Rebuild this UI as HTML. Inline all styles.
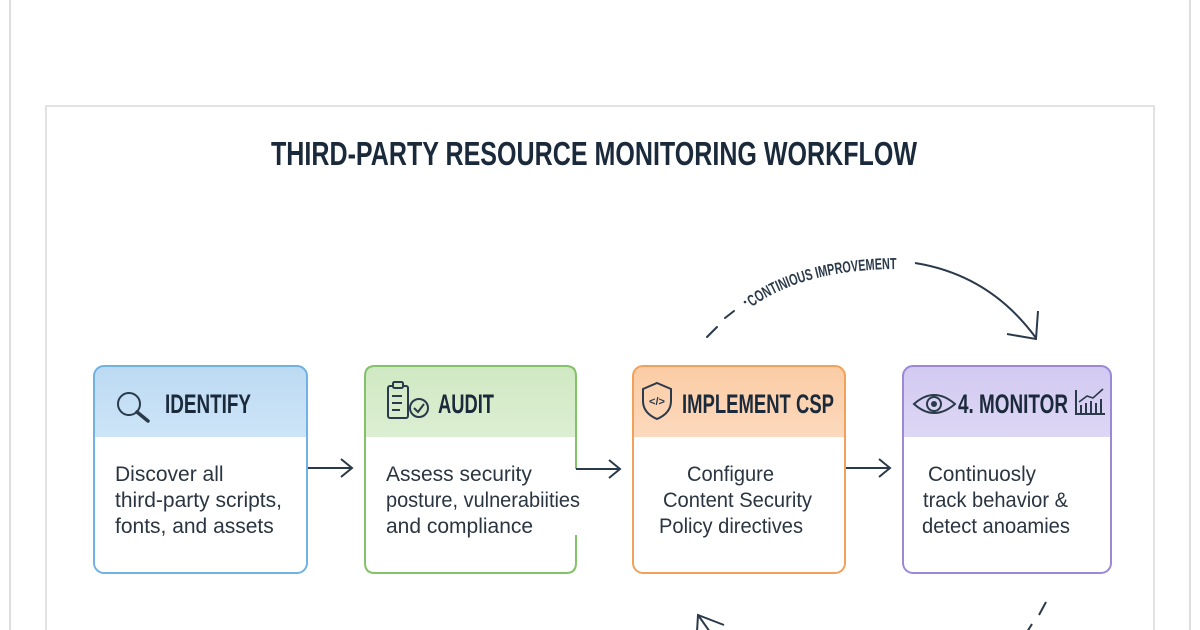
<!DOCTYPE html>
<html>
<head>
<meta charset="utf-8">
<style>
html,body{margin:0;padding:0;background:#ffffff;}
svg{display:block;}
</style>
</head>
<body>
<svg width="1200" height="630" viewBox="0 0 1200 630" xmlns="http://www.w3.org/2000/svg">
  <rect width="1200" height="630" fill="#ffffff"/>
  <!-- outer frame -->
  <line x1="10" y1="0" x2="10" y2="630" stroke="#dedede" stroke-width="2"/>
  <line x1="1190" y1="0" x2="1190" y2="630" stroke="#dedede" stroke-width="2"/>
  <!-- inner frame -->
  <path d="M46 630 V106 H1154 V630" fill="none" stroke="#e2e2e2" stroke-width="2"/>

  <!-- title -->
  <text x="271" y="165" font-family="Liberation Sans, sans-serif" font-weight="700" font-size="33" fill="#1b2a3b" textLength="646" lengthAdjust="spacingAndGlyphs">THIRD-PARTY RESOURCE MONITORING WORKFLOW</text>

  <defs>
    <linearGradient id="gb" x1="0" y1="0" x2="0" y2="1"><stop offset="0" stop-color="#bcdaf3"/><stop offset="1" stop-color="#cde4f7"/></linearGradient>
    <linearGradient id="gg" x1="0" y1="0" x2="0" y2="1"><stop offset="0" stop-color="#d0e8c3"/><stop offset="1" stop-color="#dcefd2"/></linearGradient>
    <linearGradient id="go" x1="0" y1="0" x2="0" y2="1"><stop offset="0" stop-color="#fbcca4"/><stop offset="1" stop-color="#fcd9bd"/></linearGradient>
    <linearGradient id="gp" x1="0" y1="0" x2="0" y2="1"><stop offset="0" stop-color="#d2caf1"/><stop offset="1" stop-color="#ddd7f5"/></linearGradient>
  </defs>

  <!-- Box 1 -->
  <path d="M94 437 V376 Q94 366 104 366 H297 Q307 366 307 376 V437 Z" fill="url(#gb)"/>
  <rect x="94" y="366" width="213" height="207" rx="10" fill="none" stroke="#72b2e2" stroke-width="2"/>
  <!-- magnifier -->
  <circle cx="129" cy="404" r="11" fill="none" stroke="#2a3a4a" stroke-width="2"/>
  <line x1="137" y1="412" x2="148" y2="421" stroke="#2a3a4a" stroke-width="3.5" stroke-linecap="round"/>
  <text x="165" y="413" font-family="Liberation Sans, sans-serif" font-weight="700" font-size="27" fill="#1b2a3b" textLength="86" lengthAdjust="spacingAndGlyphs">IDENTIFY</text>
  <g font-family="Liberation Sans, sans-serif" font-size="21" fill="#2b3541">
    <text x="115" y="481">Discover all</text>
    <text x="115" y="507" textLength="167" lengthAdjust="spacingAndGlyphs">third-party scripts,</text>
    <text x="115" y="533">fonts, and assets</text>
  </g>

  <!-- arrow 1 -->
  <line x1="308" y1="468" x2="351" y2="468" stroke="#2a3a4a" stroke-width="2"/>
  <path d="M341 459 L352 468 L341 477" fill="none" stroke="#2a3a4a" stroke-width="2"/>

  <!-- Box 2 -->
  <path d="M365 437 V376 Q365 366 375 366 H566 Q576 366 576 376 V437 Z" fill="url(#gg)"/>
  <path d="M576 469 V376 Q576 366 566 366 H375 Q365 366 365 376 V563 Q365 573 375 573 H566 Q576 573 576 563 V535" fill="none" stroke="#84c26a" stroke-width="2"/>
  <!-- clipboard -->
  <g fill="none" stroke="#2a3a4a" stroke-width="2">
    <rect x="388" y="386" width="20" height="32" rx="2"/>
    <rect x="393" y="382" width="10" height="6" rx="1.5" fill="#d0e8c3"/>
    <line x1="392" y1="396" x2="402" y2="396"/>
    <line x1="392" y1="403" x2="402" y2="403"/>
    <line x1="392" y1="410" x2="400" y2="410"/>
    <circle cx="419" cy="408" r="9" fill="#d4eac8"/>
    <path d="M414 408 L418 412 L424 404"/>
  </g>
  <text x="438" y="413" font-family="Liberation Sans, sans-serif" font-weight="700" font-size="27" fill="#1b2a3b" textLength="56" lengthAdjust="spacingAndGlyphs">AUDIT</text>
  <g font-family="Liberation Sans, sans-serif" font-size="21" fill="#2b3541">
    <text x="386" y="481">Assess security</text>
    <text x="386" y="507" textLength="194" lengthAdjust="spacingAndGlyphs">posture, vulnerabiities</text>
    <text x="386" y="533">and compliance</text>
  </g>

  <!-- arrow 2 -->
  <line x1="576" y1="469" x2="619" y2="469" stroke="#2a3a4a" stroke-width="2"/>
  <path d="M609 460 L620 469 L609 478" fill="none" stroke="#2a3a4a" stroke-width="2"/>

  <!-- Box 3 -->
  <path d="M633 437 V376 Q633 366 643 366 H835 Q845 366 845 376 V437 Z" fill="url(#go)"/>
  <rect x="633" y="366" width="212" height="207" rx="10" fill="none" stroke="#f2a15c" stroke-width="2"/>
  <!-- shield -->
  <path d="M657 383 L671 389 V401 Q671 413 657 419 Q643 413 643 401 V389 Z" fill="none" stroke="#2a3a4a" stroke-width="2"/>
  <text x="657" y="405" text-anchor="middle" font-family="Liberation Sans, sans-serif" font-weight="700" font-size="11" fill="#2a3a4a">&lt;/&gt;</text>
  <text x="682" y="413" font-family="Liberation Sans, sans-serif" font-weight="700" font-size="27" fill="#1b2a3b" textLength="152" lengthAdjust="spacingAndGlyphs">IMPLEMENT CSP</text>
  <g font-family="Liberation Sans, sans-serif" font-size="21" fill="#2b3541">
    <text x="687" y="481" textLength="87" lengthAdjust="spacingAndGlyphs">Configure</text>
    <text x="663" y="507" textLength="149" lengthAdjust="spacingAndGlyphs">Content Security</text>
    <text x="659" y="533" textLength="144" lengthAdjust="spacingAndGlyphs">Policy directives</text>
  </g>

  <!-- arrow 3 -->
  <line x1="846" y1="468" x2="889" y2="468" stroke="#2a3a4a" stroke-width="2"/>
  <path d="M879 459 L890 468 L879 477" fill="none" stroke="#2a3a4a" stroke-width="2"/>

  <!-- Box 4 -->
  <path d="M903 437 V376 Q903 366 913 366 H1101 Q1111 366 1111 376 V437 Z" fill="url(#gp)"/>
  <rect x="903" y="366" width="208" height="207" rx="10" fill="none" stroke="#9b89d8" stroke-width="2"/>
  <!-- eye -->
  <path d="M914 404 Q934 386 955 404 Q934 422 914 404 Z" fill="none" stroke="#2a3a4a" stroke-width="2"/>
  <circle cx="934" cy="404" r="7" fill="none" stroke="#2a3a4a" stroke-width="2"/>
  <circle cx="934" cy="404" r="3" fill="#2a3a4a"/>
  <text x="958" y="413" font-family="Liberation Sans, sans-serif" font-weight="700" font-size="27" fill="#1b2a3b" textLength="110" lengthAdjust="spacingAndGlyphs">4. MONITOR</text>
  <!-- chart -->
  <g fill="none" stroke="#2a3a4a" stroke-width="2">
    <path d="M1076 390 V414 H1105"/>
    <line x1="1081" y1="413" x2="1081" y2="405"/>
    <line x1="1086" y1="413" x2="1086" y2="403"/>
    <line x1="1091" y1="413" x2="1091" y2="401"/>
    <line x1="1096" y1="413" x2="1096" y2="403"/>
    <line x1="1101" y1="413" x2="1101" y2="399"/>
    <path d="M1079 402 L1087 396 L1093 398 L1103 389" stroke-width="1.6"/>
  </g>
  <g font-family="Liberation Sans, sans-serif" font-size="21" fill="#2b3541">
    <text x="928" y="481" textLength="108" lengthAdjust="spacingAndGlyphs">Continuosly</text>
    <text x="923" y="507" textLength="145" lengthAdjust="spacingAndGlyphs">track behavior &amp;</text>
    <text x="922" y="533" textLength="148" lengthAdjust="spacingAndGlyphs">detect anoamies</text>
  </g>

  <!-- continuous improvement arc -->
  <line x1="707" y1="337" x2="717" y2="327" stroke="#2a3a4a" stroke-width="2" stroke-linecap="round"/>
  <line x1="725" y1="318" x2="734" y2="311" stroke="#2a3a4a" stroke-width="2" stroke-linecap="round"/>
  <circle cx="745" cy="302" r="1.3" fill="#2a3a4a"/>
  <path id="tp" d="M752 307 Q806 268 905 269" fill="none"/>
  <text font-family="Liberation Sans, sans-serif" font-weight="700" font-size="16" fill="#2a3a4a"><textPath href="#tp" textLength="152" lengthAdjust="spacingAndGlyphs">CONTINIOUS IMPROVEMENT</textPath></text>
  <path d="M915 263 Q990 275 1036 338" fill="none" stroke="#2a3a4a" stroke-width="2"/>
  <path d="M1007 334 L1036 339 L1038 311" fill="none" stroke="#2a3a4a" stroke-width="2"/>

  <!-- bottom arcs -->
  <path d="M698 615 L710 632" fill="none" stroke="#2a3a4a" stroke-width="2"/>
  <path d="M724 625 L698 615 L697 632" fill="none" stroke="#2a3a4a" stroke-width="2"/>
  <line x1="1046" y1="602" x2="1039" y2="615" stroke="#2a3a4a" stroke-width="2"/>
  <line x1="1032" y1="624" x2="1027" y2="632" stroke="#2a3a4a" stroke-width="2"/>
</svg>
</body>
</html>
